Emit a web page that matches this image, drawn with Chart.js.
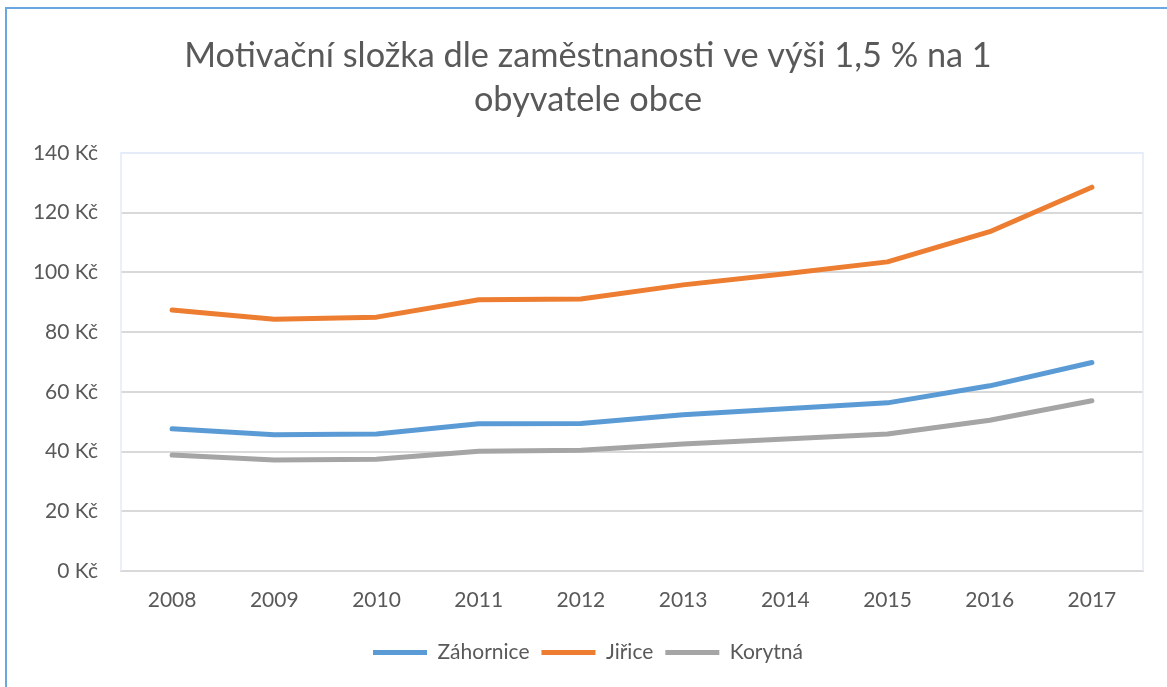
<!DOCTYPE html>
<html>
<head>
<meta charset="utf-8">
<script src="https://cdn.jsdelivr.net/npm/chart.js@4/dist/chart.umd.min.js"></script>
<style>
  html, body { margin: 0; padding: 0; background: #ffffff; }
  #wrap { position: relative; width: 1167px; height: 687px; overflow: hidden; }
  #frame { position: absolute; left: 5px; top: 7px; width: 1300px; height: 800px;
           border-left: 2px solid #6aa6e0; border-top: 2px solid #6aa6e0; box-sizing: border-box; pointer-events: none; }
  canvas { position: absolute; left: 0; top: 0; }
</style>
</head>
<body>
<div id="wrap">
  <canvas id="c" width="1167" height="687"></canvas>
  <div id="frame"></div>
</div>
<script>
const titleLines = ['Motivační složka dle zaměstnanosti ve výši 1,5 % na 1', 'obyvatele obce'];
const years = ['2008', '2009', '2010', '2011', '2012', '2013', '2014', '2015', '2016', '2017'];
const zahornice = [47.6, 45.6, 45.9, 49.3, 49.4, 52.3, 54.3, 56.3, 62.0, 69.8];
const jirice = [87.4, 84.3, 85.0, 90.8, 91.1, 95.8, 99.5, 103.5, 113.6, 128.5];
const korytna = [38.8, 37.2, 37.4, 40.1, 40.4, 42.5, 44.2, 45.9, 50.5, 57.0];
const seriesNames = ['Záhornice', 'Jiřice', 'Korytná'];
const yTicks = [0, 20, 40, 60, 80, 100, 120, 140];

const FONT = 'Lato, "Open Sans", sans-serif';
const TEXT = '#595959';

const plotFrame = {
  id: 'plotFrame',
  beforeDatasetsDraw(chart) {
    const a = chart.chartArea, ctx = chart.ctx;
    ctx.save();
    ctx.strokeStyle = '#e3ecf7';
    ctx.lineWidth = 1.5;
    ctx.beginPath();
    ctx.moveTo(a.left, a.bottom);
    ctx.lineTo(a.left, a.top);
    ctx.lineTo(a.right, a.top);
    ctx.lineTo(a.right, a.bottom);
    ctx.stroke();
    ctx.restore();
  }
};

function ds(label, data, color) {
  return {
    label, data,
    borderColor: color, backgroundColor: color,
    borderWidth: 5, borderCapStyle: 'round', borderJoinStyle: 'round',
    pointRadius: 0, pointHoverRadius: 0, tension: 0, fill: false
  };
}

new Chart(document.getElementById('c'), {
  type: 'line',
  data: {
    labels: years,
    datasets: [
      ds(seriesNames[0], zahornice, '#5b9bd5'),
      ds(seriesNames[1], jirice, '#ed7d31'),
      ds(seriesNames[2], korytna, '#a5a5a5')
    ]
  },
  options: {
    responsive: false,
    animation: false,
    layout: { padding: { left: 33, right: 24, top: 0, bottom: 14 } },
    plugins: {
      tooltip: { enabled: false },
      title: {
        display: true,
        text: titleLines,
        color: TEXT,
        font: { family: FONT, size: 34.3, weight: 'normal', lineHeight: 1.31 },
        padding: { top: 33, bottom: 30 }
      },
      legend: {
        position: 'bottom',
        labels: {
          color: TEXT,
          font: { family: FONT, size: 21 },
          usePointStyle: true,
          pointStyle: 'line',
          pointStyleWidth: 54,
          boxHeight: 10,
          padding: 12
        }
      }
    },
    scales: {
      x: {
        grid: { display: false, drawTicks: false },
        border: { display: true, color: '#d9d9d9', width: 2 },
        offset: true,
        ticks: { color: TEXT, font: { family: FONT, size: 21 }, padding: 17, maxRotation: 0 },
        afterFit(s) { s.height = 59; }
      },
      y: {
        min: 0, max: 140,
        afterBuildTicks(s) { s.ticks = yTicks.map(v => ({ value: v })); },
        grid: {
          drawTicks: false,
          lineWidth: 2,
          color: (c) => (c.tick && c.tick.value === 140) ? '#e8eff8' : '#d9d9d9'
        },
        border: { display: false },
        ticks: {
          color: TEXT, font: { family: FONT, size: 21 }, padding: 23,
          callback: (v) => v + ' Kč'
        },
        afterFit(s) { s.width = 88; }
      }
    }
  },
  plugins: [plotFrame]
});
</script>
</body>
</html>
